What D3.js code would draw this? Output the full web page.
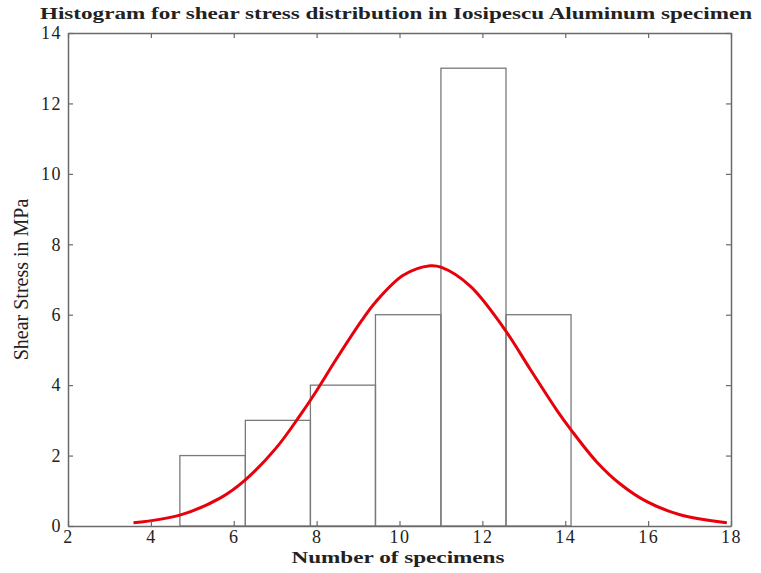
<!DOCTYPE html>
<html>
<head>
<meta charset="utf-8">
<script src="https://cdn.jsdelivr.net/npm/d3@7"></script>
<style>
  body { margin: 0; background: #fff; }
  text { font-family: "Liberation Serif", "DejaVu Serif", serif; }
</style>
</head>
<body>
<div id="chart-area"></div>
<script>
// histogram bins (edges) and counts
var binEdges = [4.70, 6.28, 7.85, 9.42, 11.0, 12.57, 14.14];
var binCounts = [2, 3, 4, 6, 13, 6];

// fitted normal curve
var curveX = [3.58, 4.70, 5.67, 6.28, 7.04, 7.60, 7.96, 8.48, 9.09, 9.43, 10.09, 10.74, 11.0, 11.70, 12.50, 13.15, 13.79, 14.14, 14.76, 15.32, 15.97, 16.77, 17.90];
var curveY = [0.09, 0.31, 0.79, 1.31, 2.24, 3.14, 3.77, 4.75, 5.84, 6.37, 7.12, 7.39, 7.35, 6.82, 5.65, 4.46, 3.30, 2.73, 1.82, 1.20, 0.69, 0.32, 0.09];

var xTicks = [2, 4, 6, 8, 10, 12, 14, 16, 18];
var yTicks = [0, 2, 4, 6, 8, 10, 12, 14];

var margin = {left: 68, right: 30, top: 33, bottom: 47};
var width = 761 - margin.left - margin.right;
var height = 573 - margin.top - margin.bottom;

var svg = d3.select('#chart-area')
    .append('svg')
        .attr('width', 761)
        .attr('height', 573);

var g = svg.append('g')
    .attr('transform', 'translate(' + margin.left + ', ' + margin.top + ')');

var x = d3.scaleLinear()
    .domain([2, 18])
    .range([0, width]);

var y = d3.scaleLinear()
    .domain([0, 14])
    .range([height, 0]);

var bins = binCounts.map(function(c, i) {
    return {x0: binEdges[i], x1: binEdges[i + 1], count: c};
});

g.selectAll('rect.bar').data(bins)
    .enter()
    .append('rect')
    .attr('class', 'bar')
    .attr('x', function(d) { return x(d.x0); })
    .attr('y', function(d) { return y(d.count); })
    .attr('width', function(d) { return x(d.x1) - x(d.x0); })
    .attr('height', function(d) { return height - y(d.count); })
    .attr('fill', 'none')
    .attr('stroke', '#7a7a7a')
    .attr('stroke-width', 1.3);

var pts = curveX.map(function(v, i) { return [v, curveY[i]]; });

var line = d3.line()
    .x(function(d) { return x(d[0]); })
    .y(function(d) { return y(d[1]); })
    .curve(d3.curveCatmullRom.alpha(0.5));

g.append('path')
    .datum(pts)
    .attr('d', line)
    .attr('fill', 'none')
    .attr('stroke', '#e8000b')
    .attr('stroke-width', 3);

// axes with inward ticks on all sides
var tickLen = 5;
var xAxis = d3.axisBottom(x).tickValues(xTicks).tickSizeInner(-tickLen).tickSizeOuter(0).tickPadding(4);
var yAxis = d3.axisLeft(y).tickValues(yTicks).tickSizeInner(-tickLen).tickSizeOuter(0).tickPadding(6);
var xTop = d3.axisTop(x).tickValues(xTicks).tickSizeInner(-tickLen).tickSizeOuter(0).tickFormat('');
var yRight = d3.axisRight(y).tickValues(yTicks).tickSizeInner(-tickLen).tickSizeOuter(0).tickFormat('');

var axX = g.append('g').attr('class', 'bottom axis')
    .attr('transform', 'translate(0, ' + height + ')')
    .call(xAxis);
var axY = g.append('g').attr('class', 'left axis').call(yAxis);
var axT = g.append('g').attr('class', 'top axis').call(xTop);
var axR = g.append('g').attr('class', 'right axis')
    .attr('transform', 'translate(' + width + ', 0)')
    .call(yRight);

[axX, axY, axT, axR].forEach(function(a) {
    a.select('.domain').attr('stroke', '#6a6a6a').attr('stroke-width', 1.5);
    a.selectAll('.tick line').attr('stroke', '#6a6a6a').attr('stroke-width', 1.2);
    a.selectAll('text')
        .attr('font-family', '"Liberation Serif", serif')
        .attr('font-size', '18px')
        .attr('letter-spacing', '1.5px')
        .attr('fill', '#222');
});

g.append('text')
    .attr('class', 'x axis-label')
    .attr('x', x(10) - 108)
    .attr('y', height + 37)
    .attr('font-size', '17px')
    .attr('font-weight', 'bold')
    .attr('textLength', 213)
    .attr('lengthAdjust', 'spacingAndGlyphs')
    .attr('fill', '#222')
    .text('Number of specimens');

g.append('text')
    .attr('class', 'y axis-label')
    .attr('x', -(height / 2))
    .attr('y', -40)
    .attr('font-size', '20px')
    .attr('text-anchor', 'middle')
    .attr('transform', 'rotate(-90)')
    .attr('fill', '#222')
    .text('Shear Stress in MPa');

svg.append('text')
    .attr('class', 'title')
    .attr('x', 40)
    .attr('y', 19)
    .attr('font-size', '17px')
    .attr('font-weight', 'bold')
    .attr('textLength', 712)
    .attr('lengthAdjust', 'spacingAndGlyphs')
    .attr('fill', '#222')
    .text('Histogram for shear stress distribution in Iosipescu Aluminum specimen');
</script>
</body>
</html>
